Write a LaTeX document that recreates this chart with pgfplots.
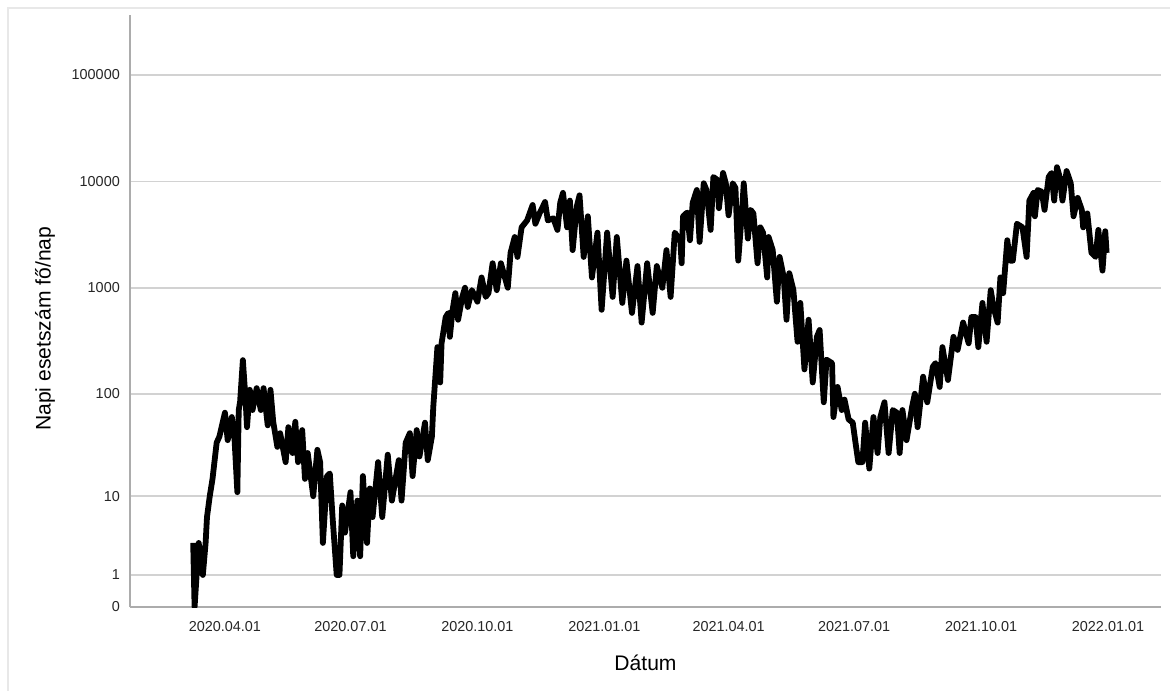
\documentclass[border=0pt]{standalone}
\usepackage{fontspec}
\setmainfont{Liberation Sans}
\usepackage{pgfplots}
\usepackage{pgfplotstable}
\pgfplotsset{compat=1.18}

% napok 2020.04.01-tol, napi esetszam
\pgfplotstableread{
d n
-23 3
-22 0
-19 3
-16 1
-14 3
-13 6
-11 10
-9 15
-6 34
-4 39
0 66
2 36
5 60
7 36
9 11
10 70
11 84
13 208
15 86
16 48
18 109
20 70
23 113
26 70
28 113
31 50
33 109
35 54
38 31
40 42
44 22
46 48
49 27
51 54
53 22
56 45
58 15
60 27
64 10
67 29
69 22
71 3
74 16
76 17
78 6
81 1
83 1
85 8
87 4
91 11
93 2
96 9
98 2
100 16
103 3
105 12
107 6
111 22
114 6
118 26
121 9
126 23
128 9
131 34
134 42
136 16
139 45
141 25
145 53
147 23
150 39
151 75
154 276
156 128
157 300
160 530
162 580
163 345
165 620
167 890
169 500
172 820
174 1000
176 660
179 950
183 740
186 1250
189 820
191 890
194 1700
197 950
200 1700
205 1000
207 2130
210 3000
212 1950
215 3700
219 4300
223 6000
225 4000
228 5000
232 6400
234 4300
238 4500
241 3500
243 6300
245 7800
248 3700
250 6600
252 2260
255 5800
257 7400
260 1950
263 4700
266 1250
270 3300
273 620
277 3300
281 820
284 3000
288 720
291 1800
295 580
299 1600
302 470
306 1700
310 580
313 1600
317 1000
320 2260
323 820
326 3300
330 2800
331 1700
332 4700
335 5100
337 2800
339 6300
342 8300
344 2700
347 9600
349 8300
352 3500
354 11000
357 10300
358 5600
361 12000
363 9600
365 4800
368 9600
370 8700
372 1800
375 5800
376 9600
379 2900
381 5400
383 5000
386 1700
388 3700
390 3300
393 1250
394 3000
397 2260
400 740
402 1950
405 1250
407 500
409 1370
412 950
415 310
417 720
420 170
423 500
426 128
429 345
431 400
434 83
436 210
440 195
441 60
444 116
447 70
449 88
452 57
455 53
457 34
459 22
462 22
464 53
467 19
470 60
473 27
475 60
478 83
481 27
484 70
487 66
489 27
491 70
494 36
498 75
500 100
502 48
506 145
509 83
513 180
515 195
518 116
520 276
524 135
528 345
531 260
535 470
539 300
541 530
544 530
546 276
549 720
552 310
555 950
557 660
560 470
562 1250
564 890
567 2800
569 1800
571 1800
574 4000
578 3700
581 1950
583 6600
586 7800
587 4700
589 8300
592 8000
594 5400
597 11000
599 12000
601 6600
603 13600
605 11000
607 6600
610 12500
613 9600
615 4700
618 7000
621 5400
622 3700
625 5000
628 2130
631 1950
633 3500
636 1450
638 3400
639 2130
}\esetek

\begin{document}
\begin{tikzpicture}
\begin{axis}[
  at={(2.6cm,1.68cm)}, anchor=south west,
  width=20.62cm, height=11.84cm, scale only axis,
  xmin=-68.8, xmax=678.4,
  ymin=0, ymax=5.564,
  axis x line*=bottom, axis y line*=left,
  axis line style={-, gray!65, line width=0.9pt},
  major tick length=0,
  ymajorgrids, grid style={gray!35, line width=0.9pt},
  xtick={0,91,183,275,365,456,548,640},
  xticklabels={2020.04.01,2020.07.01,2020.10.01,2021.01.01,2021.04.01,2021.07.01,2021.10.01,2022.01.01},
  ytick={0,0.30103,1.04139,2.00432,3.00043,4.00004,5.0000043},
  yticklabels={0,1,10,100,1000,10000,100000},
  /pgf/number format/assume math mode=true,
  ticklabel style={font=\fontsize{8.2}{10}\selectfont, text=black!85},
  xticklabel style={yshift=-0.16cm},
  yticklabel style={xshift=-0.08cm},
  xlabel={Dátum}, ylabel={Napi esetszám fő/nap},
  label style={font=\fontsize{12}{14}\selectfont},
  xlabel style={at={(axis description cs:0.5,-0.0946)}, anchor=center},
  ylabel style={at={(axis description cs:-0.0824,0.47)}, anchor=center},
]
\addplot[black, line width=3.3pt, line join=round] table[x=d, y expr={log10(\thisrow{n}+1)}] {\esetek};
\end{axis}
\draw[gray!18, line width=1.5pt] (0.16,0) -- (0.16,13.66) -- (23.4,13.66);
\pgfresetboundingbox
\useasboundingbox (0,0) rectangle (23.4,13.82);
\end{tikzpicture}
\end{document}
